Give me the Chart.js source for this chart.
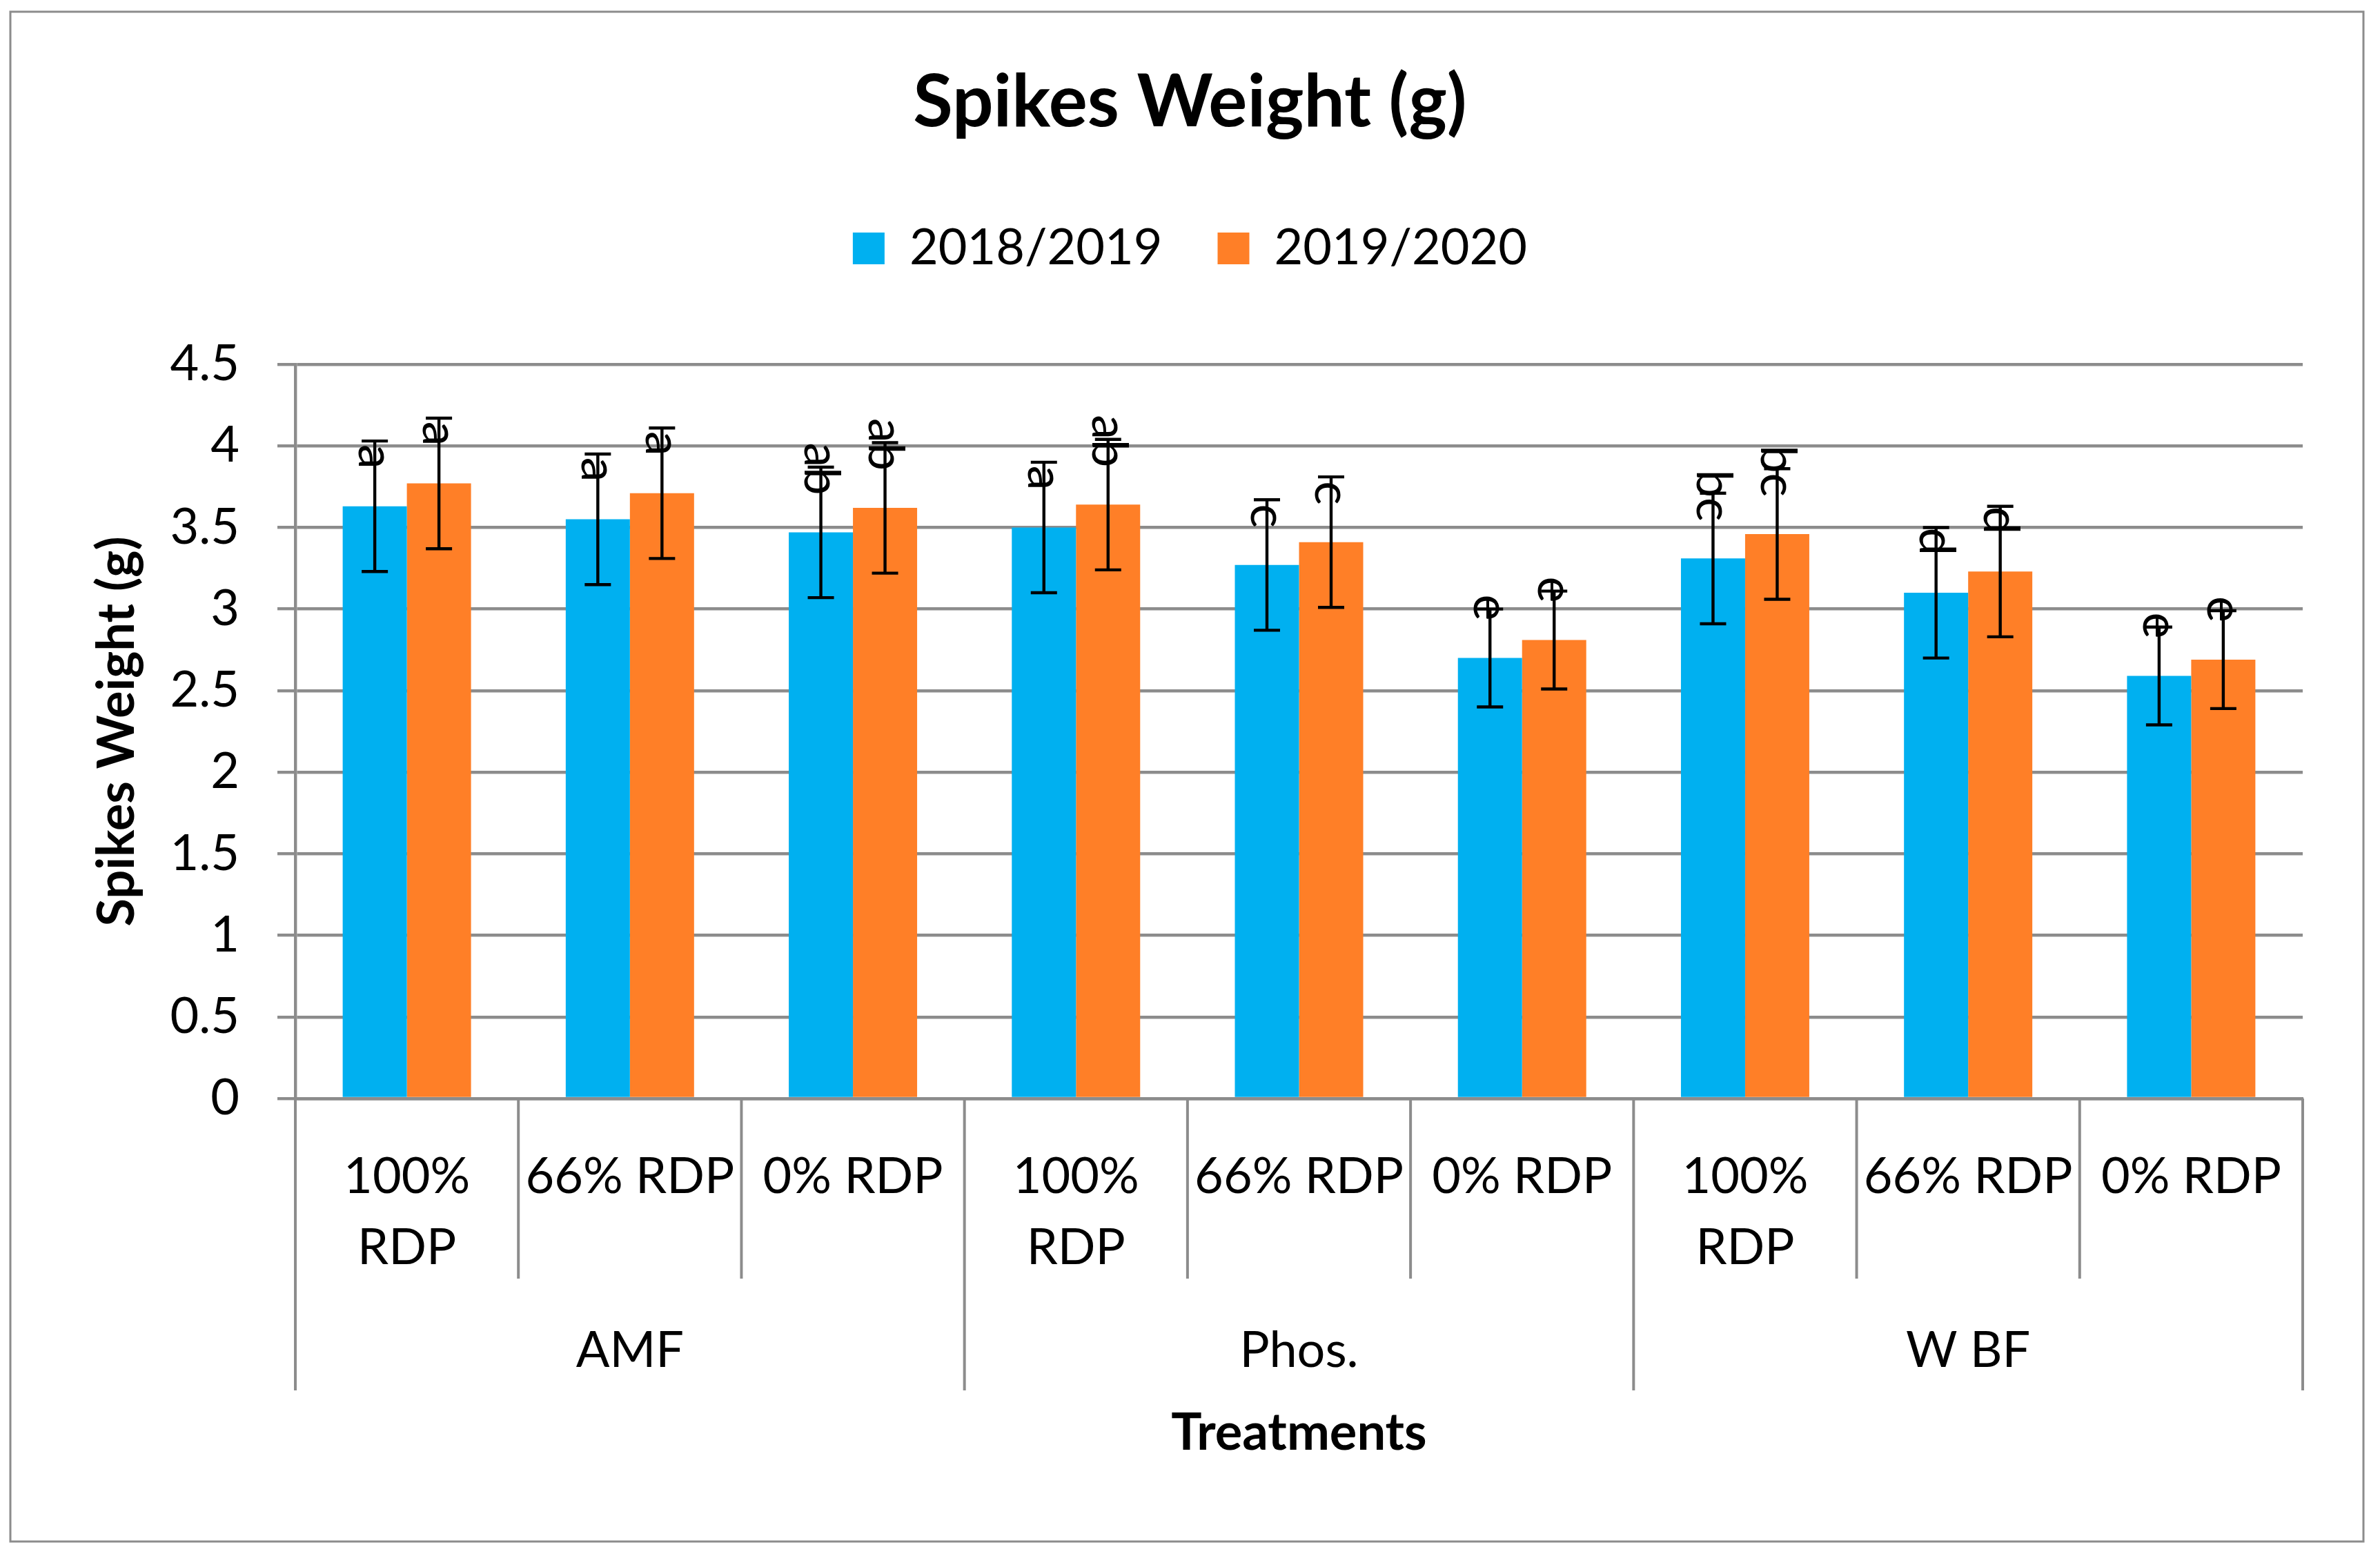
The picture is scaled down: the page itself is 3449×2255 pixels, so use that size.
<!DOCTYPE html>
<html>
<head>
<meta charset="utf-8">
<title>Spikes Weight (g)</title>
<script src="https://cdn.jsdelivr.net/npm/chart.js@4.4.1/dist/chart.umd.min.js"></script>
<style>
  html, body { margin: 0; padding: 0; background: #fff; overflow: hidden; }
  #wrap { width: 3449px; height: 2255px; position: relative; }
</style>
</head>
<body>
<div id="wrap"><canvas id="spikeChart"></canvas></div>
<script>
// sub-treatment labels along the x axis, and the three treatment groups under them
const treatments = [["100%", "RDP"], "66% RDP", "0% RDP",
                    ["100%", "RDP"], "66% RDP", "0% RDP",
                    ["100%", "RDP"], "66% RDP", "0% RDP"];
const groups = ["AMF", "Phos.", "W BF"];

const seasons = ["2018/2019", "2019/2020"];
const season1 = [3.63, 3.55, 3.47, 3.50, 3.27, 2.70, 3.31, 3.10, 2.59];
const season2 = [3.77, 3.71, 3.62, 3.64, 3.41, 2.81, 3.46, 3.23, 2.69];
const err1 = [0.4, 0.4, 0.4, 0.4, 0.4, 0.3, 0.4, 0.4, 0.3];
const err2 = [0.4, 0.4, 0.4, 0.4, 0.4, 0.3, 0.4, 0.4, 0.3];
const letters1 = ["a", "a", "ab", "a", "c", "e", "bc", "d", "e"];
const letters2 = ["a", "a", "ab", "ab", "c", "e", "bc", "d", "e"];

const GRAY = "#8c8c8c";
const BLUE = "#00b0f0";
const ORANGE = "#ff7f27";

Chart.defaults.font.family = "Lato";
Chart.defaults.color = "#000";

// white page + thin frame round the whole chart
const frame = {
    id: "frame",
    beforeDraw(chart) {
        let ctx = chart.ctx;
        ctx.save();
        ctx.fillStyle = "#fff";
        ctx.fillRect(0, 0, chart.width, chart.height);
        ctx.strokeStyle = GRAY;
        ctx.lineWidth = 3;
        ctx.strokeRect(15, 17, 3410, 2217);
        ctx.restore();
    }
};

// error bars and significance letters
const barExtras = {
    id: "barExtras",
    afterDatasetsDraw(chart) {
        let ctx = chart.ctx;
        let y = chart.scales.y;
        let errs = [err1, err2];
        let letters = [letters1, letters2];
        ctx.save();
        chart.data.datasets.forEach((ds, d) => {
            chart.getDatasetMeta(d).data.forEach((bar, i) => {
                let v = ds.data[i];
                let top = y.getPixelForValue(v + errs[d][i]);
                let bot = y.getPixelForValue(v - errs[d][i]);
                ctx.strokeStyle = "#000";
                ctx.lineWidth = 4.4;
                ctx.beginPath();
                ctx.moveTo(bar.x, top); ctx.lineTo(bar.x, bot);
                ctx.moveTo(bar.x - 19, top); ctx.lineTo(bar.x + 19, top);
                ctx.moveTo(bar.x - 19, bot); ctx.lineTo(bar.x + 19, bot);
                ctx.stroke();

                ctx.save();
                ctx.translate(bar.x, bar.y - 54);
                ctx.rotate(Math.PI / 2);
                ctx.font = "72px Lato";
                ctx.fillStyle = "#000";
                ctx.textAlign = "right";
                ctx.textBaseline = "middle";
                ctx.fillText(letters[d][i], 0, 0);
                ctx.restore();
            });
        });
        ctx.restore();
    }
};

// category separators and group names below the axis
const treatmentAxis = {
    id: "treatmentAxis",
    afterDraw(chart) {
        let ctx = chart.ctx;
        let x = chart.scales.x;
        let area = chart.chartArea;
        let n = treatments.length;
        let per = n / groups.length;
        let edges = [];
        for (let i = 0; i <= n; i++) {
            if (i === 0) edges.push(area.left);
            else if (i === n) edges.push(area.right);
            else edges.push((x.getPixelForValue(i - 1) + x.getPixelForValue(i)) / 2);
        }
        ctx.save();
        ctx.strokeStyle = GRAY;
        ctx.lineWidth = 4;
        edges.forEach((px, i) => {
            ctx.beginPath();
            ctx.moveTo(px, area.bottom);
            ctx.lineTo(px, area.bottom + (i % per === 0 ? 423 : 261));
            ctx.stroke();
        });
        ctx.fillStyle = "#000";
        ctx.font = "72px Lato";
        ctx.textAlign = "center";
        ctx.textBaseline = "middle";
        groups.forEach((g, k) => {
            let cx = (edges[k * per] + edges[(k + 1) * per]) / 2;
            ctx.fillText(g, cx, area.bottom + 366);
        });
        ctx.restore();
    }
};

// extra room between legend and plot
const legendGap = {
    id: "legendGap",
    beforeInit(chart) {
        let fit = chart.legend.fit;
        chart.legend.fit = function () {
            fit.call(this);
            this.height += 122;
        };
    }
};

new Chart(document.getElementById("spikeChart"), {
    type: "bar",
    data: {
        labels: treatments,
        datasets: [{
            label: seasons[0],
            data: season1,
            backgroundColor: BLUE,
            borderWidth: 0,
            categoryPercentage: 0.5754,
            barPercentage: 1
        }, {
            label: seasons[1],
            data: season2,
            backgroundColor: ORANGE,
            borderWidth: 0,
            categoryPercentage: 0.5754,
            barPercentage: 1
        }]
    },
    options: {
        responsive: true,
        maintainAspectRatio: false,
        devicePixelRatio: 1,
        animation: false,
        layout: { padding: { top: 0, left: 112, right: 112, bottom: 131 } },
        plugins: {
            title: {
                display: true,
                text: "Spikes Weight (g)",
                color: "#000",
                font: { size: 105, weight: "bold" },
                padding: { top: 86, bottom: 32 }
            },
            legend: {
                position: "top",
                labels: {
                    color: "#000",
                    font: { size: 72 },
                    boxWidth: 46,
                    boxHeight: 46,
                    padding: 80
                }
            },
            tooltip: { enabled: false }
        },
        scales: {
            x: {
                ticks: {
                    color: "#000",
                    font: { size: 72, lineHeight: 1.43 },
                    padding: 54,
                    autoSkip: false,
                    maxRotation: 0,
                    minRotation: 0
                },
                grid: { display: false },
                border: { display: true, color: GRAY, width: 4.4 },
                title: {
                    display: true,
                    text: "Treatments",
                    color: "#000",
                    font: { size: 74, weight: "bold" },
                    padding: { top: 0, bottom: 2 }
                },
                afterFit(scale) { scale.height = 532; }
            },
            y: {
                min: 0,
                max: 4.5,
                ticks: {
                    stepSize: 0.5,
                    color: "#000",
                    font: { size: 72 },
                    padding: 55,
                    callback: (v) => String(Math.round(v * 10) / 10)
                },
                grid: { color: GRAY, lineWidth: 4.4, tickLength: 26, drawTicks: true },
                border: { display: true, color: GRAY, width: 4.4 },
                title: {
                    display: true,
                    text: "Spikes Weight (g)",
                    color: "#000",
                    font: { size: 74, weight: "bold" },
                    padding: { top: 14, bottom: 0 }
                },
                afterFit(scale) { scale.width = 316; }
            }
        }
    },
    plugins: [frame, legendGap, barExtras, treatmentAxis]
});
</script>
</body>
</html>
